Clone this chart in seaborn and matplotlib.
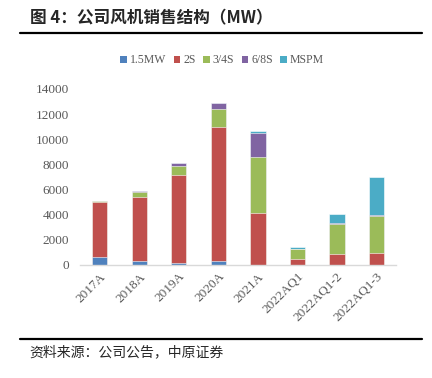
import matplotlib
matplotlib.use("Agg")
import matplotlib.pyplot as plt
from matplotlib.patches import Patch
from matplotlib.lines import Line2D
import seaborn as sns
import pandas as pd
import numpy as np

categories = ["2017A", "2018A", "2019A", "2020A", "2021A", "2022AQ1", "2022AQ1-2", "2022AQ1-3"]
series_names = ["1.5MW", "2S", "3/4S", "6/8S", "MSPM"]
mw_15 = [600, 300, 130, 290, 20, 0, 0, 0]
s_2 = [4400, 5130, 7030, 10690, 4120, 450, 900, 980]
s_34 = [70, 350, 720, 1430, 4450, 820, 2340, 2920]
s_68 = [0, 80, 260, 480, 1940, 30, 130, 100]
mspm = [0, 0, 0, 0, 130, 130, 690, 2980]
colors = ["#4F81BD", "#C0504D", "#9BBB59", "#8064A2", "#4BACC6"]

sns.set_theme(style="white")
plt.rcParams['font.family'] = ['Noto Sans CJK SC', 'DejaVu Sans']

df = pd.DataFrame({"cat": categories, "1.5MW": mw_15, "2S": s_2,
                   "3/4S": s_34, "6/8S": s_68, "MSPM": mspm})
cum = df[series_names].cumsum(axis=1)

fig = plt.figure(figsize=(4.32, 3.78), dpi=100)
ax = fig.add_axes([0.185, 0.299, 0.732, 0.4656])

# draw cumulative totals back to front so the bars stack
for name, col in reversed(list(zip(series_names, colors))):
    sns.barplot(x=df["cat"], y=cum[name], color=col, width=0.39,
                edgecolor="white", linewidth=0.4, ax=ax, saturation=1)

ax.set_xlim(-0.5, len(categories) - 0.5)
ax.set_ylim(0, 14000)
ax.set_yticks(np.arange(0, 14001, 2000))
ax.set_xlabel("")
ax.set_ylabel("")
for s in ["top", "right", "left"]:
    ax.spines[s].set_visible(False)
ax.spines["bottom"].set_color("#d9d9d9")
ax.spines["bottom"].set_linewidth(1)
ax.tick_params(axis="both", length=0, colors="#595959")
ax.set_yticklabels([str(v) for v in range(0, 14001, 2000)],
                   family="Liberation Serif", fontsize=9.5, color="#595959")
ax.set_xticks(range(len(categories)))
ax.set_xticklabels(categories, rotation=45, ha="right", rotation_mode="anchor",
                   family="Liberation Serif", fontsize=9.5, color="#595959")
ax.tick_params(axis="y", pad=8)
ax.tick_params(axis="x", pad=4)

handles = [Patch(facecolor=c, edgecolor="none") for c in colors]
leg = fig.legend(handles, series_names, loc="center", bbox_to_anchor=(0.514, 0.84),
                 ncol=5, frameon=False, handlelength=0.55, handleheight=0.55,
                 handletextpad=0.25, columnspacing=0.65,
                 prop={"family": "Liberation Serif", "size": 8.5})
for t in leg.get_texts():
    t.set_color("#595959")

fig.text(0.069, 0.952, "图 4：公司风机销售结构（MW）", fontsize=12, fontweight="bold",
         ha="left", va="center")
fig.add_artist(Line2D([0.046, 0.977], [0.912, 0.912], color="black", linewidth=1.6))
fig.add_artist(Line2D([0.046, 0.977], [0.103, 0.103], color="black", linewidth=1.6))
fig.text(0.069, 0.068, "资料来源：公司公告，中原证券", fontsize=10,
         ha="left", va="center")

fig.savefig("out.png", dpi=100)
